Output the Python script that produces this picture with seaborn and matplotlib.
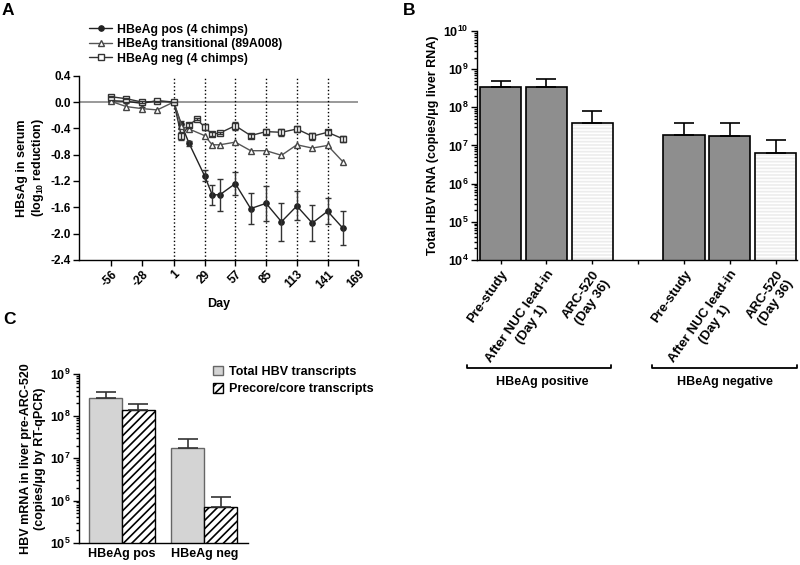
import numpy as np
import pandas as pd
import matplotlib
matplotlib.use('Agg')
import matplotlib.pyplot as plt
import seaborn as sns
from matplotlib.patches import Patch

# ---- panel A: HBsAg in serum (log10 reduction) ----
days_pos = [-56, -42, -28, -14, 1, 8, 15, 29, 36, 43, 57, 71, 85, 99, 113, 127, 141, 155]
pos_mean = [0.02, 0.01, -0.02, 0.02, 0.0, -0.34, -0.63, -1.12, -1.41, -1.41, -1.24,
            -1.62, -1.54, -1.82, -1.58, -1.84, -1.66, -1.92]
pos_err = [0.01, 0.02, 0.05, 0.01, 0.0, 0.05, 0.04, 0.08, 0.15, 0.24, 0.17,
           0.24, 0.27, 0.29, 0.22, 0.27, 0.2, 0.26]

days_trans = [-56, -42, -28, -14, 1, 8, 15, 29, 36, 43, 57, 71, 85, 99, 113, 127, 141, 155]
trans_val = [0.01, -0.07, -0.10, -0.12, 0.0, -0.37, -0.41, -0.51, -0.65, -0.65, -0.61,
             -0.74, -0.74, -0.81, -0.65, -0.70, -0.66, -0.91]

days_neg = [-56, -42, -28, -14, 1, 8, 15, 22, 29, 36, 43, 57, 71, 85, 99, 113, 127, 141, 155]
neg_mean = [0.08, 0.05, 0.0, 0.01, 0.0, -0.52, -0.35, -0.26, -0.38, -0.49, -0.47, -0.36,
            -0.51, -0.45, -0.46, -0.41, -0.52, -0.46, -0.56]
neg_err = [0.01, 0.01, 0.02, 0.01, 0.0, 0.06, 0.03, 0.02, 0.05, 0.03, 0.02, 0.06,
           0.03, 0.04, 0.05, 0.04, 0.05, 0.04, 0.05]

day_ticks = [-56, -28, 1, 29, 57, 85, 113, 141, 169]
dose_days = [1, 29, 57, 85, 113, 141]

# ---- panel B: total HBV RNA in liver ----
b_pos = [0, 1, 2, 4, 5, 6]
b_kind = ['nuc', 'nuc', 'arc', 'nuc', 'nuc', 'arc']
b_rna = [3.4e8, 3.4e8, 3.9e7, 1.87e7, 1.76e7, 6.3e6]
b_upper = [5.0e8, 5.6e8, 7.8e7, 4.0e7, 3.9e7, 1.42e7]
b_ticklabels = ['Pre-study', 'After NUC lead-in\n(Day 1)', 'ARC-520\n(Day 36)', '',
                'Pre-study', 'After NUC lead-in\n(Day 1)', 'ARC-520\n(Day 36)']

# ---- panel C: HBV mRNA pre-ARC-520 ----
c_group = ['HBeAg pos', 'HBeAg pos', 'HBeAg neg', 'HBeAg neg']
c_kind = ['Total HBV transcripts', 'Precore/core transcripts',
          'Total HBV transcripts', 'Precore/core transcripts']
c_val = [2.75e8, 1.4e8, 1.74e7, 6.9e5]
c_upper = [3.7e8, 1.95e8, 2.9e7, 1.23e6]

sns.set_theme(style='ticks')
plt.rcParams['font.family'] = ['Liberation Sans', 'DejaVu Sans']
plt.rcParams.update({
    'font.weight': 'bold', 'axes.labelweight': 'bold',
    'axes.edgecolor': 'black', 'xtick.color': 'black', 'ytick.color': 'black',
    'text.color': 'black', 'axes.labelcolor': 'black',
    'mathtext.fontset': 'custom', 'mathtext.rm': 'Liberation Sans:bold',
    'mathtext.bf': 'Liberation Sans:bold', 'mathtext.it': 'Liberation Sans:bold',
    'mathtext.default': 'regular', 'hatch.linewidth': 1.2,
    'axes.linewidth': 1.0, 'xtick.major.width': 1.0, 'ytick.major.width': 1.0,
})

fig = plt.figure(figsize=(8, 5.65), dpi=100)
axA = fig.add_axes([0.099, 0.540, 0.349, 0.326])
axB = fig.add_axes([0.596, 0.540, 0.400, 0.405])
axC = fig.add_axes([0.099, 0.0395, 0.211, 0.2986])

# panel A
axA.axhline(0, color='#888888', lw=1.2, zorder=0)
for d in dose_days:
    axA.axvline(d, color='black', ls=':', lw=1, zorder=0)

sns.lineplot(x=days_pos, y=pos_mean, marker='o', color='#222222', lw=1, markersize=4,
             markeredgecolor='#222222', ax=axA, label='HBeAg pos (4 chimps)')
axA.errorbar(days_pos, pos_mean, yerr=pos_err, fmt='none', ecolor='#333333',
             elinewidth=1, capsize=2.2)
sns.lineplot(x=days_trans, y=trans_val, marker='^', color='#555555', lw=1, markersize=5,
             markerfacecolor='white', markeredgecolor='#444444', markeredgewidth=1,
             ax=axA, label='HBeAg transitional (89A008)')
sns.lineplot(x=days_neg, y=neg_mean, marker='s', color='#333333', lw=1, markersize=5,
             markerfacecolor='white', markeredgecolor='#333333', markeredgewidth=1,
             ax=axA, label='HBeAg neg (4 chimps)')
axA.errorbar(days_neg, neg_mean, yerr=neg_err, fmt='none', ecolor='#333333',
             elinewidth=1, capsize=2.2)

axA.set_xlim(-85, 169)
axA.set_ylim(-2.4, 0.4)
axA.set_xticks(day_ticks)
axA.set_xticklabels([str(d) for d in day_ticks], rotation=45, ha='right',
                    rotation_mode='anchor', fontsize=8.5)
axA.set_yticks([0.4, 0.0, -0.4, -0.8, -1.2, -1.6, -2.0, -2.4])
axA.set_yticklabels(['0.4', '0.0', '-0.4', '-0.8', '-1.2', '-1.6', '-2.0', '-2.4'], fontsize=8.5)
axA.tick_params(length=4, pad=2)
axA.set_xlabel('Day', fontsize=9, labelpad=5)
axA.set_ylabel('HBsAg in serum\n(log$_{10}$ reduction)', fontsize=9, labelpad=3)
axA.legend(loc='lower left', bbox_to_anchor=(0.035, 1.06), frameon=False, fontsize=8.8,
           borderaxespad=0, borderpad=0, handlelength=1.9, handletextpad=0.4,
           labelspacing=0.2)
sns.despine(ax=axA)

# panel B
dfB = pd.DataFrame({'pos': b_pos, 'rna': b_rna, 'kind': b_kind})
sns.barplot(data=dfB, x='pos', y='rna', hue='kind', palette={'nuc': '#8e8e8e', 'arc': 'white'},
            native_scale=True, dodge=False, width=0.9, edgecolor='black', linewidth=1.2,
            errorbar=None, legend=False, ax=axB)
for p in axB.patches:
    if p.get_facecolor()[0] > 0.9:
        p.set_hatch('-----')
        try:
            p.set_hatchcolor('#ececec')
        except AttributeError:
            p._hatch_color = matplotlib.colors.to_rgba('#ececec')
up_b = np.array(b_upper) - np.array(b_rna)
axB.errorbar(b_pos, b_rna, yerr=[np.zeros(len(b_pos)), up_b], fmt='none', ecolor='black',
             elinewidth=1.2, capsize=7.5, capthick=1.2)
axB.set_yscale('log')
axB.set_ylim(1e4, 1e10)
axB.set_yticks([10.0 ** k for k in range(4, 11)])
axB.set_yticklabels([r'$10^{%d}$' % k for k in range(4, 11)], fontsize=9)
axB.set_xlim(-0.52, 6.46)
axB.set_xticks(range(7))
axB.set_xticklabels(b_ticklabels, rotation=55, ha='right', rotation_mode='anchor',
                    fontsize=9.5, multialignment='center')
axB.tick_params(axis='x', length=3, pad=3)
axB.tick_params(axis='y', which='major', length=4, pad=2)
axB.tick_params(axis='y', which='minor', length=2)
axB.set_xlabel('')
axB.set_ylabel('Total HBV RNA (copies/μg liver RNA)', fontsize=9, labelpad=3)
sns.despine(ax=axB)

tr = axB.get_xaxis_transform()
for x0, x1, xt, lab in [(-0.74, 2.41, 0.9, 'HBeAg positive'), (3.31, 6.46, 4.9, 'HBeAg negative')]:
    axB.plot([x0, x0, x1, x1], [-0.458, -0.472, -0.472, -0.458], color='black', lw=1.3,
             transform=tr, clip_on=False)
    axB.text(xt, -0.533, lab, transform=tr, ha='center', va='center', fontsize=9)

# panel C
dfC = pd.DataFrame({'group': c_group, 'kind': c_kind, 'val': c_val})
sns.barplot(data=dfC, x='group', y='val', hue='kind',
            palette={'Total HBV transcripts': '#d4d4d4', 'Precore/core transcripts': 'white'},
            width=0.8, errorbar=None, ax=axC)
for p in axC.patches:
    if p.get_facecolor()[0] > 0.9:
        p.set_edgecolor('black')
        p.set_hatch('////')
        p.set_linewidth(1.0)
    else:
        p.set_edgecolor('#666666')
        p.set_linewidth(1.0)
c_x = [-0.2, 0.2, 0.8, 1.2]
up_c = np.array(c_upper) - np.array(c_val)
axC.errorbar(c_x, c_val, yerr=[np.zeros(4), up_c], fmt='none', ecolor='#333333',
             elinewidth=1.2, capsize=7, capthick=1.2)
axC.set_yscale('log')
axC.set_ylim(1e5, 1e9)
axC.set_yticks([10.0 ** k for k in range(5, 10)])
axC.set_yticklabels([r'$10^{%d}$' % k for k in range(5, 10)], fontsize=9)
axC.set_xlim(-0.52, 1.53)
axC.tick_params(axis='x', length=0, pad=4, labelsize=9)
axC.tick_params(axis='y', which='major', length=4, pad=2)
axC.tick_params(axis='y', which='minor', length=2)
axC.set_xlabel('')
axC.set_ylabel('HBV mRNA in liver pre-ARC-520\n(copies/μg by RT-qPCR)', fontsize=9, labelpad=3)
handles = [Patch(facecolor='#d4d4d4', edgecolor='#666666'),
           Patch(facecolor='white', edgecolor='black', hatch='////')]
axC.legend(handles, ['Total HBV transcripts', 'Precore/core transcripts'], loc='upper left',
           bbox_to_anchor=(0.79, 1.05), frameon=False, fontsize=9, borderaxespad=0,
           borderpad=0, handlelength=0.8, handleheight=0.8, handletextpad=0.5,
           labelspacing=0.45)
sns.despine(ax=axC)

# panel letters
fig.text(2 / 800, 1 - 3 / 565, 'A', fontsize=12.5, va='top', ha='left')
fig.text(403 / 800, 1 - 3 / 565, 'B', fontsize=12.5, va='top', ha='left')
fig.text(3 / 800, 1 - 312 / 565, 'C', fontsize=12.5, va='top', ha='left')

fig.savefig('out.png', dpi=100)
